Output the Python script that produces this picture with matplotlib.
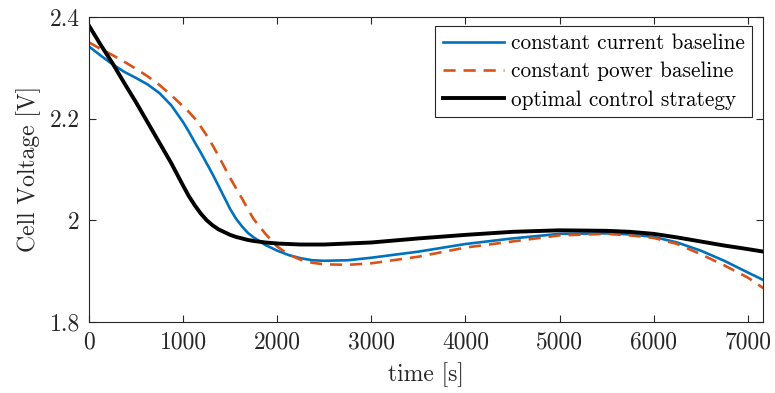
import matplotlib
matplotlib.use('Agg')
from matplotlib import pyplot as plt
import numpy as np

# time points [s]
t = [0, 125, 250, 375, 500, 625, 750, 875, 1000, 1062, 1125, 1188, 1250, 1312, 1375,
     1500, 1562, 1625, 1688, 1750, 1875, 2000, 2125, 2250, 2375, 2500, 2750, 3000, 3500,
     4000, 4500, 5000, 5500, 5750, 6000, 6250, 6500, 6750, 7000, 7166]

# constant current baseline
v_cc = [2.342, 2.324, 2.307, 2.292, 2.280, 2.267, 2.250, 2.226, 2.193, 2.174, 2.153, 2.133,
        2.112, 2.091, 2.068, 2.022, 2.003, 1.988, 1.975, 1.966, 1.951, 1.940, 1.931, 1.925,
        1.921, 1.920, 1.921, 1.926, 1.938, 1.953, 1.964, 1.973, 1.974, 1.972, 1.967, 1.956,
        1.940, 1.920, 1.897, 1.882]

# constant power baseline
v_cp = [2.350, 2.337, 2.325, 2.312, 2.298, 2.283, 2.266, 2.246, 2.224, 2.213, 2.200, 2.184,
        2.167, 2.148, 2.127, 2.083, 2.063, 2.043, 2.022, 2.002, 1.973, 1.948, 1.932, 1.922,
        1.916, 1.913, 1.912, 1.915, 1.928, 1.946, 1.958, 1.970, 1.973, 1.970, 1.965, 1.953,
        1.933, 1.911, 1.887, 1.866]

# optimal control strategy
v_opt = [2.383, 2.345, 2.309, 2.270, 2.232, 2.192, 2.152, 2.112, 2.068, 2.047, 2.029, 2.013,
         2.000, 1.990, 1.982, 1.971, 1.967, 1.964, 1.961, 1.959, 1.956, 1.954, 1.953, 1.952,
         1.952, 1.952, 1.954, 1.956, 1.964, 1.971, 1.977, 1.980, 1.979, 1.977, 1.973, 1.966,
         1.958, 1.950, 1.943, 1.938]

labels = ['constant current baseline', 'constant power baseline', 'optimal control strategy']

plt.rcParams['font.family'] = 'cmr10'
plt.rcParams['mathtext.fontset'] = 'cm'
plt.rcParams['axes.formatter.use_mathtext'] = True

fig = plt.figure(figsize=(7.75, 3.93), dpi=100)
ax = fig.add_axes([0.1148, 0.1814, 0.985 - 0.1148, 0.9567 - 0.1814])

ax.plot(t, v_cc, color='#0072BD', lw=1.9, label=labels[0])
ax.plot(t, v_cp, color='#D95319', lw=1.9, ls=(0, (4.6, 3.0)), label=labels[1])
ax.plot(t, v_opt, color='black', lw=2.8, label=labels[2])

ax.set_xlim(0, 7166)
ax.set_ylim(1.8, 2.4)
ax.set_xticks([0, 1000, 2000, 3000, 4000, 5000, 6000, 7000])
ax.set_xticklabels(['0', '1000', '2000', '3000', '4000', '5000', '6000', '7000'])
ax.set_yticks([1.8, 2.0, 2.2, 2.4])
ax.set_yticklabels(['1.8', '2', '2.2', '2.4'])

ax.tick_params(direction='in', length=5, width=0.8, colors='#262626', labelsize=17,
               top=True, right=True)
ax.tick_params(axis='x', pad=7)
ax.tick_params(axis='y', pad=6.5)
for s in ax.spines.values():
    s.set_color('#262626')
    s.set_linewidth(0.8)

ax.set_xlabel('time [s]', fontsize=17, color='#262626', labelpad=6.5)
ax.set_ylabel('Cell Voltage [V]', fontsize=17, color='#262626', labelpad=6)

leg = ax.legend(loc='upper right', bbox_to_anchor=(752 / 775, 1 - 26 / 393),
                bbox_transform=fig.transFigure, borderaxespad=0,
                fontsize=15.3, frameon=True, fancybox=False, framealpha=1,
                edgecolor='#262626', handlelength=2.9, handletextpad=0.3,
                borderpad=0.35, labelspacing=0.42)
leg.get_frame().set_linewidth(0.8)

fig.savefig('out.png', dpi=100)
